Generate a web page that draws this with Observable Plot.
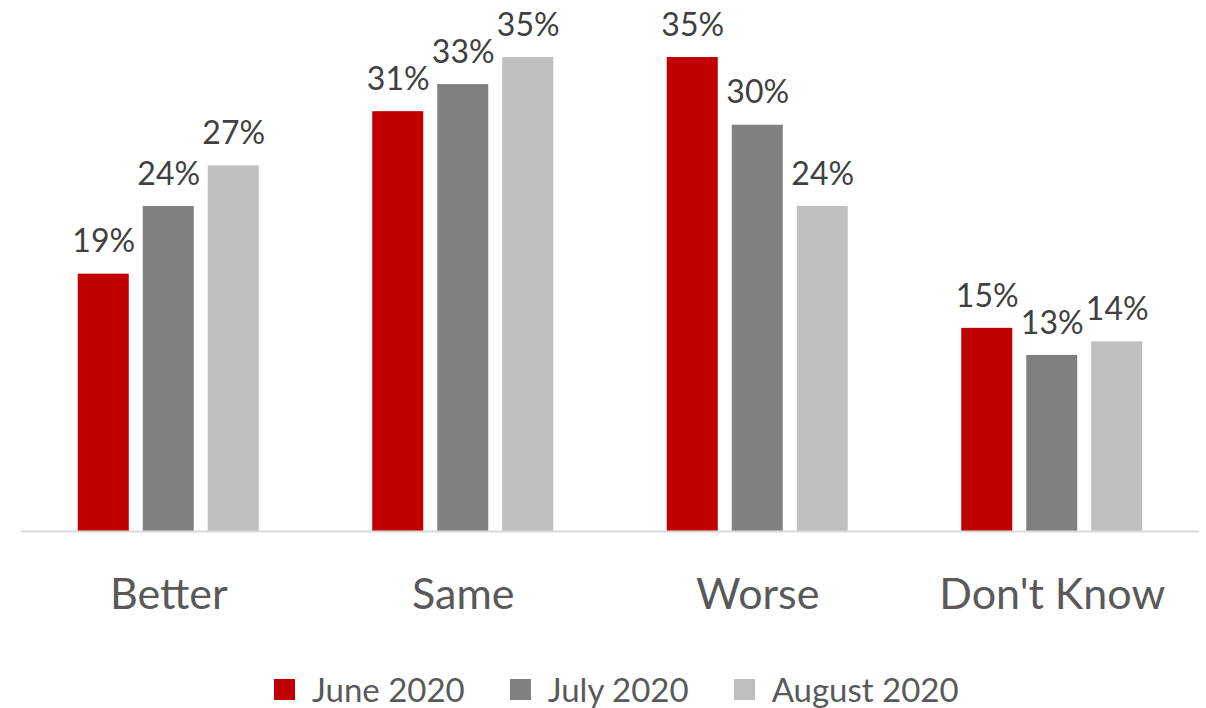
<!DOCTYPE html>
<html>
<head>
<meta charset="utf-8">
<script src="https://cdn.jsdelivr.net/npm/d3@7"></script>
<script src="https://cdn.jsdelivr.net/npm/@observablehq/plot@0.6"></script>
<style>
  html, body { margin: 0; padding: 0; background: #fff; }
  #wrap { position: relative; width: 1206px; height: 708px; font-family: Lato, "Open Sans", sans-serif; }
  #legend { position: absolute; left: 0; top: 672px; width: 1206px; height: 35px; display: flex; align-items: center; justify-content: flex-start; padding-left: 274px; box-sizing: border-box; }
  .item { display: flex; align-items: center; margin-right: 45px; color: #595959; font-size: 33px; line-height: 1; }
  .sw { width: 21px; height: 21px; margin-right: 17px; }
</style>
</head>
<body>
<div id="wrap"><div id="chart"></div><div id="legend"></div></div>
<script>
const categories = ["Better", "Same", "Worse", "Don't Know"];
const seriesNames = ["June 2020", "July 2020", "August 2020"];
const colors = ["#C00000", "#808080", "#BFBFBF"];
const june = [19, 31, 35, 15];
const july = [24, 33, 30, 13];
const august = [27, 35, 24, 14];

const seriesValues = [june, july, august];
const data = [];
categories.forEach((c, i) => {
  seriesNames.forEach((s, j) => data.push({category: c, series: s, value: seriesValues[j][i]}));
});

const chart = Plot.plot({
  width: 1206,
  height: 640,
  marginTop: 57,
  marginBottom: 109,
  marginLeft: 21,
  marginRight: 7,
  style: {fontFamily: "Lato, 'Open Sans', sans-serif", background: "#fff"},
  fx: {domain: categories, padding: 0, round: false, label: null},
  x: {domain: seriesNames, paddingInner: 0.215, paddingOuter: 0.873, round: false, axis: null},
  y: {domain: [0, 35], axis: null},
  color: {domain: seriesNames, range: colors},
  marks: [
    Plot.barY(data, {fx: "category", x: "series", y: "value", fill: "series"}),
    Plot.ruleY([0], {stroke: "#D9D9D9", strokeWidth: 2}),
    Plot.text(data, {fx: "category", x: "series", y: "value", text: d => d.value + "%", lineAnchor: "middle", dy: -32, fontSize: 32, fill: "#404040"}),
    Plot.axisFx({anchor: "bottom", tickSize: 0, tickPadding: 47, fontSize: 43, color: "#595959", label: null})
  ]
});
document.getElementById("chart").appendChild(chart);

const legend = document.getElementById("legend");
seriesNames.forEach((s, i) => {
  const it = document.createElement("div");
  it.className = "item";
  it.innerHTML = `<div class="sw" style="background:${colors[i]}"></div><span>${s}</span>`;
  legend.appendChild(it);
});
</script>
</body>
</html>
